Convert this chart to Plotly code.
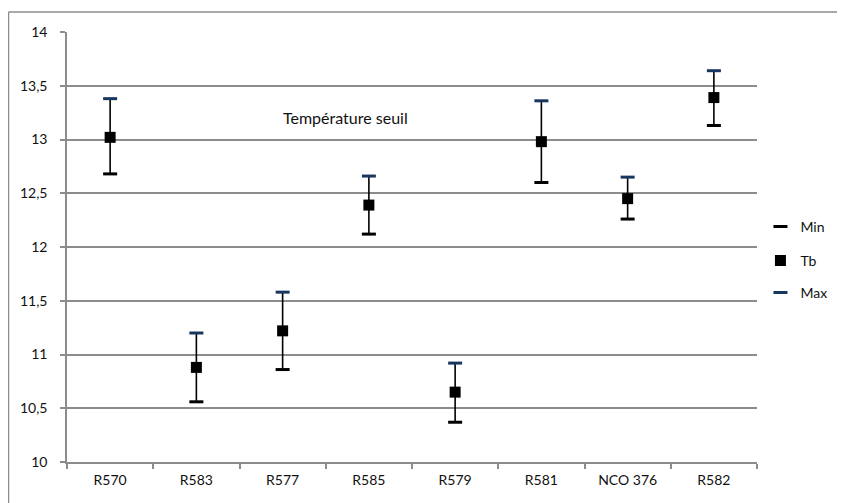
import plotly.graph_objects as go

# values
categories = ["R570", "R583", "R577", "R585", "R579", "R581", "NCO 376", "R582"]
tb_min = [12.68, 10.56, 10.86, 12.12, 10.37, 12.60, 12.26, 13.13]
tb = [13.02, 10.88, 11.22, 12.39, 10.65, 12.98, 12.45, 13.39]
tb_max = [13.38, 11.20, 11.58, 12.66, 10.92, 13.36, 12.65, 13.64]
y_ticks = [10, 10.5, 11, 11.5, 12, 12.5, 13, 13.5, 14]

grey = "#8c8c8c"
font = dict(family="Lato, Open Sans, sans-serif", size=14, color="#111")

# page body has an 8px margin, so the plot area is shifted by 8px
W, H = 845, 503
L, T = 59, 24
PW, PH = 690, 430

fig = go.Figure()

# high-low lines, drawn as error bars from Tb to min/max
fig.add_trace(go.Scatter(
    x=categories, y=tb, mode="markers", showlegend=False, hoverinfo="skip",
    marker=dict(size=1, color="rgba(0,0,0,0)"),
    error_y=dict(type="data", symmetric=False,
                 array=[hi - t for hi, t in zip(tb_max, tb)],
                 arrayminus=[t - lo for lo, t in zip(tb_min, tb)],
                 color="black", thickness=1.6, width=0),
))

fig.add_trace(go.Scatter(
    x=categories, y=tb_min, mode="markers", name="Min", legend="legend",
    marker=dict(symbol="line-ew", size=10, line=dict(width=3, color="black")),
))
fig.add_trace(go.Scatter(
    x=categories, y=tb, mode="markers", name="Tb", legend="legend2",
    marker=dict(symbol="square", size=11, color="black"),
))
fig.add_trace(go.Scatter(
    x=categories, y=tb_max, mode="markers", name="Max", legend="legend3",
    marker=dict(symbol="line-ew", size=10, line=dict(width=3, color="#17375e")),
))

leg = dict(xanchor="left", yanchor="middle", x=1.005, font=font,
           bgcolor="rgba(0,0,0,0)", itemwidth=30)
border_left = (0.5 - L) / PW
border_top = (T + PH - 4) / PH
fig.update_layout(
    width=W, height=H,
    margin=dict(l=L, r=W - L - PW, t=T, b=H - T - PH, autoexpand=False),
    paper_bgcolor="white", plot_bgcolor="white",
    separators=", ",
    font=font,
    legend=dict(leg, y=(462 - 227) / 430),
    legend2=dict(leg, y=(462 - 261) / 430),
    legend3=dict(leg, y=(462 - 293) / 430),
    xaxis=dict(type="category", categoryorder="array", categoryarray=categories,
               showline=True, linecolor=grey, linewidth=1.5,
               ticks="outside", tickson="boundaries", ticklen=5, tickcolor=grey,
               tickwidth=1.5, showgrid=False, ticklabelstandoff=4,
               range=[-0.5, len(categories) - 0.5], fixedrange=True),
    yaxis=dict(range=[10, 14], tickvals=y_ticks, showline=True, linecolor=grey,
               linewidth=1.5, ticks="outside", ticklen=5, tickcolor=grey, tickwidth=1.5,
               showgrid=True, gridcolor=grey, gridwidth=1.5, zeroline=False,
               ticklabelstandoff=10),
    annotations=[dict(text="Température seuil", xref="paper", yref="paper",
                      x=(345 - 67) / 690, y=(462 - 106) / 430, showarrow=False,
                      font=dict(family="Lato, Open Sans, sans-serif", size=16, color="#111"))],
    shapes=[
        dict(type="line", xref="paper", yref="paper", x0=border_left, x1=1.3,
             y0=border_top, y1=border_top, line=dict(color=grey, width=1.5)),
        dict(type="line", xref="paper", yref="paper", x0=border_left, x1=border_left,
             y0=-0.2, y1=border_top, line=dict(color=grey, width=1.5)),
    ],
)

fig.write_html("out.html")
